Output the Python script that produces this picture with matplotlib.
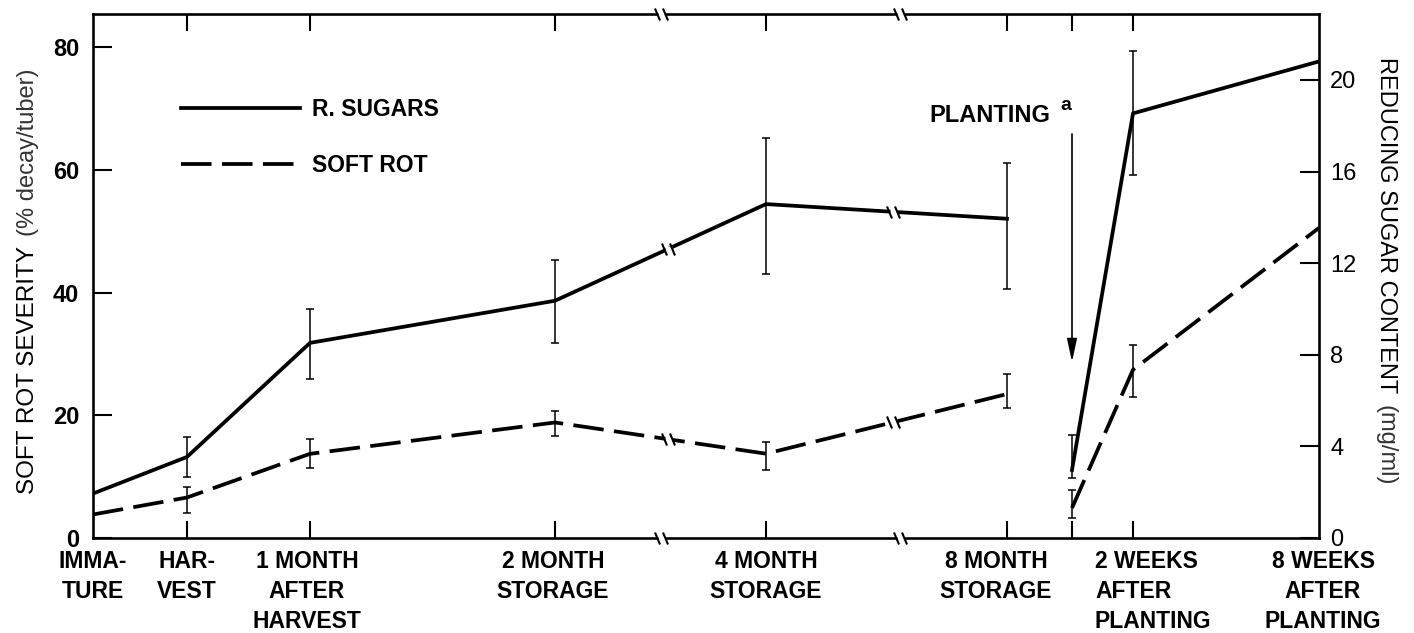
import numpy as np
import matplotlib
matplotlib.use("Agg")
import matplotlib.pyplot as plt
from matplotlib.path import Path

plt.rcParams['font.family'] = ['Liberation Sans', 'DejaVu Sans']
plt.rcParams['lines.scale_dashes'] = False

# ---------------- data ----------------
categories = ["IMMA-\nTURE", "HAR-\nVEST", "1 MONTH\nAFTER\nHARVEST", "2 MONTH\nSTORAGE",
              "4 MONTH\nSTORAGE", "8 MONTH\nSTORAGE", "PLANTING",
              "2 WEEKS\nAFTER\nPLANTING", "8 WEEKS\nAFTER\nPLANTING"]
# reducing sugars (mg/ml), right axis
sugar = np.array([1.94, 3.54, 8.52, 10.36, 14.58, 13.94, 2.97, 18.54, 20.81])
sugar_lo = np.array([np.nan, 2.65, 6.93, 8.50, 11.51, 10.89, 2.62, 15.85, np.nan])
sugar_hi = np.array([np.nan, 4.42, 9.98, 12.13, 17.45, 16.38, 4.50, 21.25, np.nan])
# soft rot severity (% decay/tuber), left axis
rot = np.array([3.83, 6.60, 13.72, 18.83, 13.74, 23.46, 4.89, 27.42, 50.54])
rot_lo = np.array([np.nan, 4.09, 11.41, 16.65, 11.03, 21.15, 3.26, 22.99, np.nan])
rot_hi = np.array([np.nan, 8.37, 16.16, 20.69, 15.66, 26.75, 7.82, 31.38, np.nan])
left_ticks = [0, 20, 40, 60, 80]
right_ticks = [0, 4, 8, 12, 16, 20]

# ---------------- layout ----------------
W, H = 1414, 633
px = 72.0 / 100  # points per pixel
fig = plt.figure(figsize=(W / 100, H / 100), dpi=100)
L, R, B, T = 93, 1319, 538, 14
ax = fig.add_axes([L / W, 1 - B / H, (R - L) / W, (B - T) / H])
ax2 = ax.twinx()

xpos = np.array([0, 94, 217, 462, 673, 914, 979, 1040, 1226])  # broken time axis layout
axis_breaks = [568, 807]
line_breaks = [575, 800]

ax.set_xlim(0, 1226)
ax.set_ylim(0, 85.4)
ax2.set_ylim(0, 22.88)

pre = slice(0, 6)
post = slice(6, 9)
lw = 2.7
dash = (0, (22, 7.5))

h1, = ax2.plot(xpos[pre], sugar[pre], color='k', lw=lw, zorder=3)
ax2.plot(xpos[post], sugar[post], color='k', lw=lw, zorder=3)
h2, = ax.plot(xpos[pre], rot[pre], color='k', lw=lw, ls=dash, zorder=3)
ax.plot(xpos[post], rot[post], color='k', lw=lw, ls=dash, zorder=3)


def errbars(axis, x, c, lo, hi):
    m = ~np.isnan(lo)
    axis.errorbar(x[m], c[m], yerr=[c[m] - lo[m], hi[m] - c[m]], fmt='none',
                  ecolor='k', elinewidth=1.1, capsize=3.0, capthick=1.1, zorder=3)


errbars(ax2, xpos, sugar, sugar_lo, sugar_hi)
errbars(ax, xpos, rot, rot_lo, rot_hi)

# break marker "\\"
sl, hh, g = 2.5, 6.0, 4.0
brk = Path([(-g - sl, hh), (-g + sl, -hh), (g - sl, hh), (g + sl, -hh)],
           [Path.MOVETO, Path.LINETO, Path.MOVETO, Path.LINETO])
brk_ms = 2 * (g + sl) * px
gap_ms = 7 * px


def draw_break(axis, xs, ys, transform):
    axis.plot(xs, ys, ls='none', marker='s', mfc='w', mec='none', ms=gap_ms,
              transform=transform, clip_on=False, zorder=6)
    axis.plot(xs, ys, ls='none', marker=brk, mfc='none', mec='k', mew=1.5,
              ms=brk_ms, transform=transform, clip_on=False, zorder=7)


xt = ax.get_xaxis_transform()
draw_break(ax, axis_breaks, [0, 0], xt)
draw_break(ax, axis_breaks, [1, 1], xt)
draw_break(ax2, line_breaks, np.interp(line_breaks, xpos[pre], sugar[pre]), ax2.transData)
draw_break(ax, line_breaks, np.interp(line_breaks, xpos[pre], rot[pre]), ax.transData)

# spines
for s in ['top', 'bottom', 'left']:
    ax.spines[s].set_linewidth(1.9)
ax.spines['right'].set_visible(False)
for s in ['top', 'bottom', 'left']:
    ax2.spines[s].set_visible(False)
ax2.spines['right'].set_linewidth(1.9)

# ticks
ax.set_xticks(xpos[1:8])
ax.set_xticklabels([])
ax.tick_params(axis='x', direction='in', top=True, bottom=True, length=12, width=1.5)
ax.set_yticks(left_ticks)
ax.tick_params(axis='y', direction='in', length=14, width=1.5, pad=10, labelsize=17)
for lb in ax.get_yticklabels():
    lb.set_fontweight('bold')
ax2.set_yticks(right_ticks)
ax2.tick_params(axis='y', direction='in', length=13.5, width=1.5, pad=8, labelsize=17)

# x category labels
label_dx = [0, 0, -3, -2, 0, -11, 0, -38, 4]
label_ha = ['center', 'center', 'center', 'center', 'center', 'center', 'center', 'left', 'center']
for i, (cat, dx, ha) in enumerate(zip(categories, label_dx, label_ha)):
    if cat == "PLANTING":
        continue
    ax.annotate(cat, xy=(xpos[i], 0), xycoords=xt, xytext=(dx * px, -9),
                textcoords='offset points', ha=ha, va='top', multialignment=ha,
                fontsize=16.5, fontweight='bold', linespacing=1.38, annotation_clip=False)

# planting annotation
fig.text(990 / W, 1 - 116 / H, "PLANTING", ha='center', va='center', fontsize=17, fontweight='bold')
fig.text(1066 / W, 1 - 105 / H, "a", ha='center', va='center', fontsize=14, fontweight='bold')
ax.annotate('', xy=(xpos[6], (B - 362) / (B - T)), xycoords=xt,
            xytext=(xpos[6], (B - 134) / (B - T)), textcoords=xt,
            arrowprops=dict(arrowstyle='-|>,head_length=0.7,head_width=0.15',
                            mutation_scale=20, lw=1.2, color='k', shrinkA=0, shrinkB=0))

# axis titles
fig.text(34 / W, 1 - 370 / H, "SOFT ROT SEVERITY", rotation=90, rotation_mode='anchor',
         ha='center', va='baseline', fontsize=17.5)
fig.text(34 / W, 1 - 152 / H, "(% decay/tuber)", rotation=90, rotation_mode='anchor',
         ha='center', va='baseline', fontsize=17, color='#333333')
fig.text(1380 / W, 1 - 225 / H, "REDUCING SUGAR CONTENT", rotation=-90, rotation_mode='anchor',
         ha='center', va='baseline', fontsize=17)
fig.text(1380 / W, 1 - 445 / H, "(mg/ml)", rotation=-90, rotation_mode='anchor',
         ha='center', va='baseline', fontsize=17, color='#333333')

# legend
ax.legend([h1, h2], ['R. SUGARS', 'SOFT ROT'], loc='upper left',
          bbox_to_anchor=(0.0718, 0.840), frameon=False, handlelength=5.2,
          handletextpad=0.5, labelspacing=1.45, borderpad=0, borderaxespad=0,
          prop={'weight': 'bold', 'size': 16.5})

fig.savefig('out.png', dpi=100, facecolor='white')
